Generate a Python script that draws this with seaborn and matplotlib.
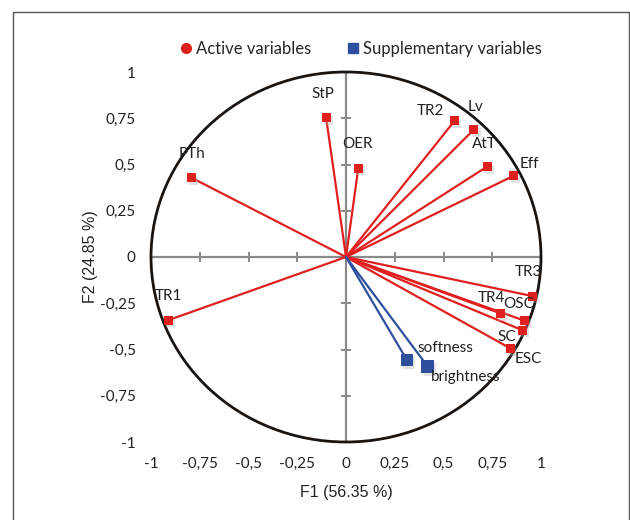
"""
plot.py

Círculo de correlaciones (F1 vs F2) con variables activas y suplementarias.
"""

import matplotlib
matplotlib.use("Agg")
import matplotlib.pyplot as plt
import matplotlib.patheffects as pe
from matplotlib.patches import Circle, Rectangle
from matplotlib.lines import Line2D
import pandas as pd
import seaborn as sns

# =========================
# Datos
# =========================

active_labels = ["PTh", "StP", "OER", "TR2", "Lv", "AtT", "Eff",
                 "TR3", "TR4", "OSC", "SC", "ESC", "TR1"]
active_f1 = [-0.793, -0.102, 0.063, 0.558, 0.656, 0.724, 0.858,
             0.955, 0.793, 0.917, 0.903, 0.843, -0.910]
active_f2 = [0.429, 0.753, 0.480, 0.738, 0.689, 0.489, 0.438,
             -0.211, -0.305, -0.345, -0.395, -0.494, -0.341]

supp_labels = ["softness", "brightness"]
supp_f1 = [0.312, 0.419]
supp_f2 = [-0.556, -0.592]

tick_values = [-1, -0.75, -0.5, -0.25, 0, 0.25, 0.5, 0.75, 1]
tick_labels = ["-1", "-0,75", "-0,5", "-0,25", "0", "0,25", "0,5", "0,75", "1"]

x_title = "F1 (56.35 %)"
y_title = "F2 (24.85 %)"

# desplazamiento de etiquetas (pixeles)
active_offsets = [(1, 24), (-3, 24), (-1, 24), (-24, 9), (2, 23), (-3, 23), (16, 12),
                  (-4, 24), (-9, 15), (-6, 17), (-15, -7), (18, -11), (0, 24)]
supp_offsets = [(39, 12), (38, -10)]

RED = "#E0201F"
BLUE = "#2E4F9E"
LABEL_FONT = ["Lato", "DejaVu Sans"]

active_df = pd.DataFrame({"F1": active_f1, "F2": active_f2, "label": active_labels})
supp_df = pd.DataFrame({"F1": supp_f1, "F2": supp_f2, "label": supp_labels})

# =========================
# Figura
# =========================

sns.set_theme(style="white")
plt.rcParams["font.family"] = LABEL_FONT

fig = plt.figure(figsize=(6.3, 5.2), dpi=100)
ax = fig.add_axes([151 / 630, 78 / 520, 390 / 630, 370 / 520])

# marco exterior
fig.patches.append(Rectangle((13 / 630, -0.05), 616 / 630, 1.05 - 12 / 520,
                             transform=fig.transFigure, fill=False,
                             edgecolor="#555555", linewidth=1.0))

ax.set_xlim(-1, 1)
ax.set_ylim(-1, 1)
for spine in ax.spines.values():
    spine.set_visible(False)

# ejes centrales con marcas cruzadas
ax.axhline(0, color="#8a8a8a", linewidth=1.6, zorder=1)
ax.axvline(0, color="#8a8a8a", linewidth=1.6, zorder=1)
ax.scatter(tick_values, [0] * len(tick_values), marker="|", s=45,
           color="#8a8a8a", linewidths=1.4, zorder=1)
ax.scatter([0] * len(tick_values), tick_values, marker="_", s=45,
           color="#8a8a8a", linewidths=1.4, zorder=1)

# círculo unidad
ax.add_patch(Circle((0, 0), 1, fill=False, edgecolor="#1a1410",
                    linewidth=2.0, clip_on=False, zorder=2))

shadow = [pe.SimplePatchShadow(offset=(1.5, -2), shadow_rgbFace="#b0b0b0", alpha=0.35),
          pe.Normal()]

# vectores activos
for _, row in active_df.iterrows():
    ax.plot([0, row["F1"]], [0, row["F2"]], color=RED, linewidth=1.6, zorder=3)
sns.scatterplot(data=active_df, x="F1", y="F2", ax=ax, marker="s", s=42,
                color=RED, edgecolor=RED, linewidth=0, zorder=4,
                legend=False).collections[-1].set_path_effects(shadow)

# vectores suplementarios
for _, row in supp_df.iterrows():
    ax.plot([0, row["F1"]], [0, row["F2"]], color=BLUE, linewidth=1.6, zorder=3)
sc = ax.scatter(supp_df["F1"], supp_df["F2"], marker="s", s=80, color=BLUE,
                linewidths=0, zorder=4)
sc.set_path_effects(shadow)

# etiquetas
for (_, row), off in zip(active_df.iterrows(), active_offsets):
    ax.annotate(row["label"], (row["F1"], row["F2"]), xytext=off,
                textcoords="offset pixels", ha="center", va="center",
                fontsize=11, color="#222222", zorder=5)
for (_, row), off in zip(supp_df.iterrows(), supp_offsets):
    ax.annotate(row["label"], (row["F1"], row["F2"]), xytext=off,
                textcoords="offset pixels", ha="center", va="center",
                fontsize=11, color="#222222", zorder=5)

# ticks en el borde
ax.set_xticks(tick_values)
ax.set_xticklabels(tick_labels)
ax.set_yticks(tick_values)
ax.set_yticklabels(tick_labels)
ax.tick_params(axis="both", length=0, labelsize=11, colors="#222222")
ax.tick_params(axis="x", pad=11)
ax.tick_params(axis="y", pad=11)

ax.set_xlabel(x_title, fontsize=11.5, family=["Liberation Sans"], color="#222222",
              labelpad=10)
ax.set_ylabel(y_title, fontsize=11.5, family=["Liberation Sans"], color="#222222",
              labelpad=1)

# leyenda
handles = [
    Line2D([], [], marker="o", linestyle="none", color=RED, markersize=7),
    Line2D([], [], marker="s", linestyle="none", color=BLUE, markersize=6.5),
]
fig.legend(handles, ["Active variables", "Supplementary variables"],
           loc="center", bbox_to_anchor=(360 / 630, 1 - 49 / 520), ncol=2,
           frameon=False, fontsize=12, handletextpad=0.1, columnspacing=2.0,
           handlelength=1.0)

fig.savefig("out.png", dpi=100)
plt.close(fig)
